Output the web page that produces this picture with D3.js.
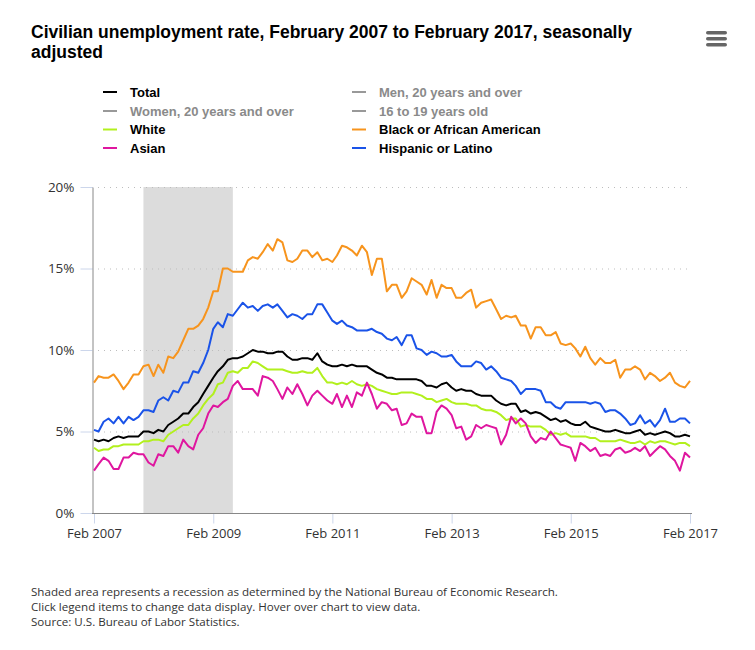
<!DOCTYPE html>
<html>
<head>
<meta charset="utf-8">
<script src="https://cdn.jsdelivr.net/npm/d3@7"></script>
<style>
body { margin: 0; background: #fff; }
</style>
</head>
<body>
<svg id="chart" width="755" height="650"></svg>
<script>
// first month of the series, one value per month after it
var startMonth = "2007-02";
var xTickMonths = ["2007-02", "2009-02", "2011-02", "2013-02", "2015-02", "2017-02"];
var yTicks = [0, 5, 10, 15, 20];
var recession = ["2007-12", "2009-06"];

var total = [4.5, 4.4, 4.5, 4.4, 4.6, 4.7, 4.6, 4.7, 4.7, 4.7, 5.0,
    5.0, 4.9, 5.1, 5.0, 5.4, 5.6, 5.8, 6.1, 6.1, 6.5, 6.8, 7.3,
    7.8, 8.3, 8.7, 9.0, 9.4, 9.5, 9.5, 9.6, 9.8, 10.0, 9.9, 9.9,
    9.8, 9.8, 9.9, 9.9, 9.6, 9.4, 9.4, 9.5, 9.5, 9.4, 9.8, 9.3,
    9.1, 9.0, 9.0, 9.1, 9.0, 9.1, 9.0, 9.0, 9.0, 8.8, 8.6, 8.5,
    8.3, 8.3, 8.2, 8.2, 8.2, 8.2, 8.2, 8.1, 7.8, 7.8, 7.7, 7.9,
    8.0, 7.7, 7.5, 7.6, 7.5, 7.5, 7.3, 7.2, 7.2, 7.2, 6.9, 6.7,
    6.6, 6.7, 6.7, 6.2, 6.3, 6.1, 6.2, 6.1, 5.9, 5.7, 5.8, 5.6,
    5.7, 5.5, 5.4, 5.4, 5.6, 5.3, 5.2, 5.1, 5.0, 5.0, 5.1, 5.0,
    4.9, 4.9, 5.0, 5.1, 4.8, 4.9, 4.8, 4.9, 5.0, 4.9, 4.7, 4.7,
    4.8, 4.7];

var white = [4.0, 3.8, 3.9, 3.9, 4.1, 4.1, 4.2, 4.2, 4.2, 4.2, 4.4,
    4.4, 4.5, 4.5, 4.4, 4.8, 5.0, 5.2, 5.4, 5.4, 5.8, 6.1, 6.6,
    7.0, 7.3, 7.9, 8.0, 8.6, 8.7, 8.6, 8.9, 8.9, 9.3, 9.2, 9.0,
    8.8, 8.8, 8.8, 8.8, 8.7, 8.6, 8.6, 8.7, 8.6, 8.6, 8.9, 8.4,
    8.0, 8.0, 7.9, 8.0, 7.9, 8.1, 7.9, 7.8, 7.9, 7.8, 7.6, 7.5,
    7.4, 7.3, 7.3, 7.4, 7.4, 7.4, 7.3, 7.2, 7.0, 7.0, 6.8, 6.9,
    7.0, 6.8, 6.7, 6.7, 6.7, 6.6, 6.6, 6.4, 6.3, 6.3, 6.2, 6.0,
    5.7, 5.8, 5.8, 5.3, 5.4, 5.3, 5.3, 5.3, 5.1, 4.8, 4.9, 4.8,
    4.9, 4.7, 4.7, 4.7, 4.7, 4.6, 4.6, 4.4, 4.4, 4.4, 4.4, 4.5,
    4.4, 4.3, 4.3, 4.4, 4.2, 4.4, 4.3, 4.4, 4.4, 4.3, 4.2, 4.3,
    4.3, 4.1];

var black = [8.0, 8.4, 8.3, 8.3, 8.5, 8.1, 7.6, 8.0, 8.5, 8.5, 9.0,
    9.1, 8.4, 9.1, 8.6, 9.6, 9.5, 9.9, 10.6, 11.3, 11.3, 11.5, 11.9,
    12.6, 13.6, 13.6, 15.0, 15.0, 14.8, 14.8, 14.8, 15.5, 15.7, 15.6, 16.0,
    16.5, 16.1, 16.8, 16.6, 15.5, 15.4, 15.6, 16.1, 16.1, 15.7, 16.0, 15.5,
    15.6, 15.4, 15.8, 16.4, 16.3, 16.1, 15.8, 16.4, 16.0, 14.6, 15.6, 15.6,
    13.6, 14.0, 14.0, 13.2, 13.6, 14.4, 14.2, 14.0, 13.4, 14.3, 13.2, 14.0,
    13.8, 13.8, 13.2, 13.2, 13.5, 13.7, 12.6, 12.9, 13.0, 13.1, 12.5, 11.9,
    12.1, 12.0, 12.1, 11.5, 11.5, 10.7, 11.4, 11.4, 10.9, 10.9, 11.1, 10.4,
    10.3, 10.4, 10.1, 9.6, 10.2, 9.5, 9.1, 9.5, 9.2, 9.2, 9.4, 8.3,
    8.8, 8.8, 9.0, 8.8, 8.2, 8.6, 8.4, 8.1, 8.3, 8.6, 8.0, 7.8,
    7.7, 8.1];

var asian = [2.6, 3.0, 3.4, 3.2, 2.7, 2.7, 3.4, 3.4, 3.7, 3.6, 3.6,
    3.1, 2.9, 3.6, 3.5, 4.1, 4.1, 3.7, 4.5, 4.1, 3.9, 4.8, 5.2,
    6.1, 6.6, 6.5, 6.8, 7.0, 7.8, 8.1, 7.6, 7.6, 7.6, 7.2, 8.4,
    8.3, 8.1, 7.6, 7.0, 7.7, 7.3, 7.9, 7.3, 6.6, 7.2, 7.5, 7.2,
    6.9, 6.7, 7.3, 6.5, 7.2, 6.5, 7.4, 7.2, 8.0, 7.3, 6.4, 6.8,
    6.7, 6.3, 6.4, 5.4, 5.5, 6.1, 5.9, 5.9, 4.9, 4.9, 6.2, 6.6,
    6.4, 6.0, 5.2, 5.3, 4.5, 4.7, 5.4, 5.2, 5.4, 5.3, 5.2, 4.2,
    4.8, 5.9, 5.5, 5.8, 5.5, 4.7, 4.3, 4.6, 4.5, 5.0, 4.6, 4.2,
    4.1, 4.0, 3.2, 4.3, 4.1, 3.8, 4.0, 3.5, 3.6, 3.5, 3.9, 4.0,
    3.7, 3.8, 4.0, 3.8, 4.1, 3.5, 3.8, 4.1, 3.9, 3.5, 3.2, 2.6,
    3.7, 3.4];

var hispanic = [5.1, 5.0, 5.6, 5.8, 5.5, 5.9, 5.5, 5.9, 5.7, 5.9, 6.3,
    6.3, 6.2, 6.9, 7.1, 6.9, 7.5, 7.4, 8.0, 8.0, 8.7, 8.6, 9.2,
    10.0, 11.3, 11.7, 11.4, 12.2, 12.1, 12.5, 12.9, 12.6, 12.7, 12.4, 12.7,
    12.8, 12.6, 12.8, 12.4, 12.0, 12.2, 12.1, 11.9, 12.2, 12.2, 12.8, 12.8,
    12.3, 11.8, 11.6, 11.8, 11.5, 11.4, 11.2, 11.2, 11.2, 11.3, 11.1, 11.0,
    10.7, 10.6, 10.8, 10.3, 10.9, 10.9, 10.1, 10.0, 9.7, 9.9, 9.8, 9.6,
    9.6, 9.7, 9.3, 9.0, 9.0, 9.0, 9.3, 9.2, 8.8, 9.0, 8.7, 8.3,
    8.2, 8.1, 7.8, 7.3, 7.6, 7.6, 7.6, 7.5, 6.8, 6.8, 6.5, 6.4,
    6.8, 6.8, 6.8, 6.8, 6.8, 6.7, 6.8, 6.7, 6.2, 6.3, 6.3, 6.1,
    5.8, 5.4, 5.5, 6.0, 5.5, 5.7, 5.3, 5.7, 6.4, 5.6, 5.6, 5.8,
    5.8, 5.5];

var legendNames = ["Total", "Men, 20 years and over", "Women, 20 years and over", "16 to 19 years old",
    "White", "Black or African American", "Asian", "Hispanic or Latino"];
var legendColors = ["#000000", "#8a8a8a", "#8a8a8a", "#8a8a8a", "#b2f01e", "#f7941d", "#df169f", "#1a53e8"];
var legendShown = [true, false, false, false, true, true, true, true];

var footnotes = ["Shaded area represents a recession as determined by the National Bureau of Economic Research.",
    "Click legend items to change data display. Hover over chart to view data.",
    "Source: U.S. Bureau of Labor Statistics."];

var parseMonth = d3.timeParse("%Y-%m");
var start = parseMonth(startMonth);

// series drawn in this order, black on top of nothing special
var series = [
    { name: "White", values: white, color: legendColors[4] },
    { name: "Asian", values: asian, color: legendColors[6] },
    { name: "Hispanic or Latino", values: hispanic, color: legendColors[7] },
    { name: "Black or African American", values: black, color: legendColors[5] },
    { name: "Total", values: total, color: legendColors[0] }
];

var svg = d3.select("#chart");
svg.append("rect").attr("width", 755).attr("height", 650).attr("fill", "#fff");

var x = d3.scaleTime()
    .domain([parseMonth(xTickMonths[0]), parseMonth(xTickMonths[xTickMonths.length - 1])])
    .range([94, 690]);
var y = d3.scaleLinear().domain([0, 20]).range([513, 187]);

// title
var title = svg.append("text")
    .attr("x", 31).attr("y", 38)
    .style("font-family", "'Liberation Sans', Arial, sans-serif")
    .style("font-weight", "bold")
    .style("font-size", "17.5px")
    .attr("fill", "#000");
title.append("tspan").attr("x", 31).attr("y", 38).text("Civilian unemployment rate, February 2007 to February 2017, seasonally");
title.append("tspan").attr("x", 31).attr("y", 58).text("adjusted");

// menu icon
svg.selectAll(".menu").data([0, 1, 2]).enter().append("rect")
    .attr("x", 706).attr("y", function (d) { return 31 + d * 6; })
    .attr("width", 21).attr("height", 3.5).attr("rx", 1.75)
    .attr("fill", "#666");

// legend
var legend = svg.selectAll(".legend")
    .data(legendNames)
    .enter().append("g")
    .attr("transform", function (d, i) {
        return "translate(" + (i % 2 === 0 ? 103 : 352) + "," + [92, 111, 129.5, 148][Math.floor(i / 2)] + ")";
    });
legend.append("line")
    .attr("x1", 0).attr("x2", 14)
    .attr("stroke", function (d, i) { return legendShown[i] ? legendColors[i] : "#999"; })
    .attr("stroke-width", 2);
legend.append("text")
    .attr("x", 27).attr("y", 4.5)
    .style("font-family", "'Liberation Sans', Arial, sans-serif")
    .style("font-weight", "bold")
    .style("font-size", "13px")
    .attr("fill", function (d, i) { return legendShown[i] ? "#000" : "#8a8a8a"; })
    .text(function (d) { return d; });

// recession band
svg.append("rect")
    .attr("x", x(parseMonth(recession[0])))
    .attr("y", y(20))
    .attr("width", x(parseMonth(recession[1])) - x(parseMonth(recession[0])))
    .attr("height", y(0) - y(20))
    .attr("fill", "#dcdcdc");

// dotted grid
svg.selectAll(".grid")
    .data(yTicks.filter(function (d) { return d > 0; }))
    .enter().append("line")
    .attr("x1", 92).attr("x2", 690)
    .attr("y1", function (d) { return y(d) + 0.5; })
    .attr("y2", function (d) { return y(d) + 0.5; })
    .attr("stroke", "#bdbdbd")
    .attr("stroke-dasharray", "1,5");

// y axis
var yAxis = svg.append("g")
    .attr("transform", "translate(92.5,0)")
    .call(d3.axisLeft(y).tickValues(yTicks).tickFormat(function (d) { return d + "%"; })
        .tickSize(12).tickPadding(6).tickSizeOuter(0));
yAxis.select(".domain").attr("stroke", "#888");
yAxis.selectAll(".tick line").attr("stroke", "#ccd6eb");
yAxis.selectAll("text")
    .style("font-family", "'Open Sans', sans-serif")
    .style("font-size", "13.5px")
    .attr("fill", "#333");

// x axis
var xAxis = svg.append("g")
    .attr("transform", "translate(0,513.5)")
    .call(d3.axisBottom(x).tickValues(xTickMonths.map(parseMonth))
        .tickFormat(d3.timeFormat("%b %Y")).tickSize(10).tickPadding(5));
xAxis.select(".domain").remove();
xAxis.selectAll(".tick line").attr("stroke", "#ccd6eb");
xAxis.selectAll("text")
    .style("font-family", "'Open Sans', sans-serif")
    .style("font-size", "13px")
    .attr("fill", "#333");
svg.append("line")
    .attr("x1", 92).attr("x2", 692)
    .attr("y1", 513.5).attr("y2", 513.5)
    .attr("stroke", "#888");

// lines
var line = d3.line()
    .x(function (d, i) { return x(d3.timeMonth.offset(start, i)); })
    .y(function (d) { return y(d); });

svg.selectAll(".series")
    .data(series)
    .enter().append("path")
    .attr("d", function (d) { return line(d.values); })
    .attr("fill", "none")
    .attr("stroke", function (d) { return d.color; })
    .attr("stroke-width", 2)
    .attr("stroke-linejoin", "round");

// notes
svg.selectAll(".note")
    .data(footnotes)
    .enter().append("text")
    .attr("x", 31)
    .attr("y", function (d, i) { return 596 + i * 15; })
    .style("font-family", "'Open Sans', sans-serif")
    .style("font-size", "11.6px")
    .attr("fill", "#333")
    .text(function (d) { return d; });
</script>
</body>
</html>
